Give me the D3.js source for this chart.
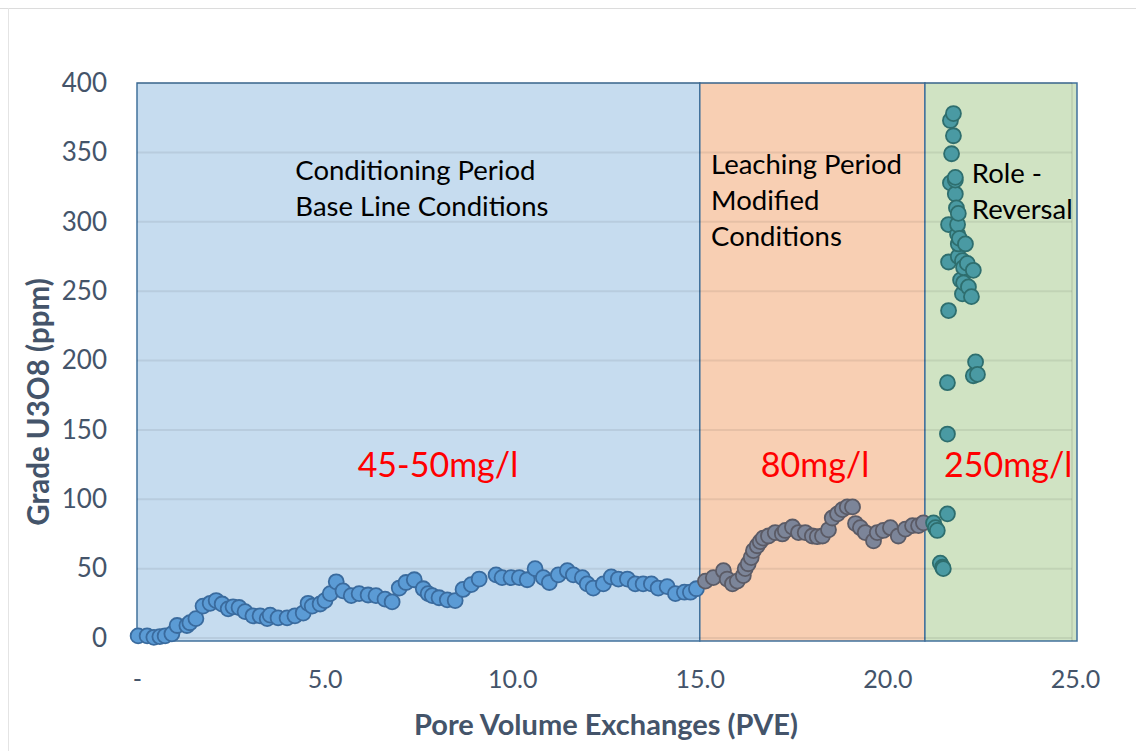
<!DOCTYPE html>
<html>
<head>
<meta charset="utf-8">
<script src="https://cdn.jsdelivr.net/npm/d3@7/dist/d3.min.js"></script>
<style>
  body { margin: 0; background: #fff; }
  text { font-family: Lato, "Open Sans", sans-serif; }
</style>
</head>
<body>
<div id="chart"></div>
<script>
// pore volume exchanges (x) and grade U3O8 ppm (y)
const conditioningPve = [0.03, 0.27, 0.45, 0.61, 0.75, 0.93, 1.07, 1.33, 1.41, 1.57, 1.76, 1.95, 2.11, 2.27, 2.43, 2.56, 2.72, 2.88, 3.09, 3.28, 3.47, 3.55, 3.76, 4.0, 4.21, 4.43, 4.56, 4.67, 4.88, 5.01, 5.15, 5.31, 5.49, 5.71, 5.92, 6.16, 6.37, 6.61, 6.8, 6.99, 7.17, 7.39, 7.63, 7.76, 7.87, 8.05, 8.27, 8.48, 8.69, 8.91, 9.12, 9.57, 9.73, 9.97, 10.19, 10.4, 10.61, 10.83, 10.99, 11.23, 11.47, 11.63, 11.87, 12.0, 12.16, 12.43, 12.64, 12.83, 13.07, 13.28, 13.49, 13.71, 13.89, 14.13, 14.35, 14.59, 14.75, 14.91];
const conditioningGrade = [1.5, 1.5, 0.5, 1, 1.5, 3, 9, 9, 11, 14, 23, 25, 27, 24.5, 21, 22.5, 22, 19, 16, 16, 14, 16.5, 14.5, 14.5, 16, 18, 25, 23, 24.5, 27, 32, 40.5, 34, 30.5, 32, 31, 30.5, 28, 26, 36, 40, 42, 35.5, 32, 30.5, 29, 27.5, 27, 35, 38.5, 42.5, 45.5, 43.5, 43.5, 43.5, 42, 50, 43.5, 40, 45.5, 48.5, 45.5, 43.5, 39, 36, 39, 44, 42.5, 42.5, 39, 39, 39, 36, 37, 32, 33, 33, 35.5];

const leachingPve = [15.15, 15.36, 15.63, 15.73, 15.87, 16.0, 16.16, 16.21, 16.29, 16.37, 16.43, 16.53, 16.61, 16.69, 16.83, 17.01, 17.2, 17.28, 17.47, 17.63, 17.81, 18.0, 18.13, 18.27, 18.43, 18.53, 18.67, 18.8, 18.93, 19.07, 19.15, 19.28, 19.41, 19.63, 19.73, 19.89, 20.08, 20.29, 20.48, 20.67, 20.83, 20.96];
const leachingGrade = [41, 43.5, 48.5, 42.5, 39, 41, 45, 50, 53.5, 58, 63, 66.5, 69.5, 72, 73.5, 76, 75, 77.5, 80, 76, 76, 73.5, 73, 73.5, 78, 86.5, 89.5, 92.5, 94.5, 94.5, 82.5, 79.5, 76, 70, 76, 77.5, 79.5, 73.5, 78.5, 81, 81, 83];

const reversalPve = [21.23, 21.28, 21.33, 21.41, 21.47, 21.49, 21.6, 21.6, 21.6, 21.63, 21.63, 21.63, 21.68, 21.68, 21.71, 21.76, 21.76, 21.81, 21.81, 21.81, 21.84, 21.87, 21.87, 21.89, 21.89, 21.89, 21.92, 21.95, 22.0, 22.0, 22.03, 22.03, 22.08, 22.13, 22.16, 22.24, 22.29, 22.29, 22.35, 22.4];
const reversalGrade = [83, 79.5, 77.5, 54, 51, 50, 89.5, 147, 184, 236, 271, 298, 328, 373, 349, 362, 378, 320, 330, 332, 310, 291, 298, 275, 284, 306, 288, 258, 248, 272, 256, 267, 284, 270, 253, 246, 189, 265, 199, 190];

const xTicks = [0, 5, 10, 15, 20, 25];
const yTicks = [0, 50, 100, 150, 200, 250, 300, 350, 400];

const periods = [
    { from: 0, to: 15, fill: "#c6dcef", lines: ["Conditioning Period", "Base Line Conditions"], dose: "45-50mg/l" },
    { from: 15, to: 21, fill: "#f8cfb3", lines: ["Leaching Period", "Modified", "Conditions"], dose: "80mg/l" },
    { from: 21, to: 25, fill: "#d0e3c3", lines: ["Role -", "Reversal"], dose: "250mg/l" }
];

const W = 1136, H = 751;
const margin = { top: 83, right: 61, bottom: 113, left: 137 };
const width = W - margin.left - margin.right;
const height = H - margin.top - margin.bottom;

const svg = d3.select("#chart").append("svg")
    .attr("width", W)
    .attr("height", H);

// faint worksheet frame
svg.append("line").attr("x1", 0).attr("x2", W).attr("y1", 8.5).attr("y2", 8.5)
    .attr("stroke", "#dcdcdc");
svg.append("line").attr("x1", 8.5).attr("x2", 8.5).attr("y1", 8).attr("y2", H)
    .attr("stroke", "#e4e4e4");

const g = svg.append("g")
    .attr("transform", `translate(${margin.left},${margin.top})`);

const x = d3.scaleLinear().domain([0, 25]).range([0, width]);
const y = d3.scaleLinear().domain([0, 400]).range([height, 0]);

// period boxes
g.selectAll(".period")
    .data(periods)
    .enter()
    .append("rect")
    .attr("x", d => x(d.from))
    .attr("y", y(400))
    .attr("width", d => x(d.to) - x(d.from) + (d.to === 25 ? 2 : 0))
    .attr("height", y(0) - y(400) + 3)
    .attr("fill", d => d.fill)
    .attr("stroke", "#41719c")
    .attr("stroke-width", 1.5);

// gridlines
g.append("g")
    .selectAll("line")
    .data(yTicks)
    .enter()
    .append("line")
    .attr("x1", 0)
    .attr("x2", x(25) - 3)
    .attr("y1", d => y(d))
    .attr("y2", d => y(d))
    .attr("stroke", "#000")
    .attr("stroke-opacity", 0.07)
    .attr("stroke-width", 2);

g.append("line")
    .attr("x1", x(25) - 3).attr("x2", x(25) - 3)
    .attr("y1", y(400)).attr("y2", y(0) + 3)
    .attr("stroke", "#000").attr("stroke-opacity", 0.1).attr("stroke-width", 1.5);

// axes
const yAxis = g.append("g")
    .call(d3.axisLeft(y).tickValues(yTicks).tickSize(0).tickPadding(30));
yAxis.select(".domain").remove();
yAxis.selectAll("text")
    .attr("fill", "#44546a")
    .style("font-size", "26px")
    .style("font-family", "Lato, sans-serif");

const xAxis = g.append("g")
    .attr("transform", `translate(0,${height})`)
    .call(d3.axisBottom(x).tickValues(xTicks).tickSize(0).tickPadding(32)
        .tickFormat(d => d === 0 ? "-" : d3.format(".1f")(d)));
xAxis.select(".domain").remove();
xAxis.selectAll("text")
    .attr("fill", "#44546a")
    .style("font-size", "25px")
    .style("font-family", "Lato, sans-serif");

// axis titles
svg.append("text")
    .attr("x", margin.left + x(12.5))
    .attr("y", 735)
    .attr("text-anchor", "middle")
    .attr("fill", "#44546a")
    .style("font-size", "29px")
    .style("font-weight", "bold")
    .text("Pore Volume Exchanges (PVE)");

svg.append("text")
    .attr("transform", `translate(49,402) rotate(-90)`)
    .attr("text-anchor", "middle")
    .attr("fill", "#44546a")
    .style("font-size", "29.5px")
    .style("font-weight", "bold")
    .text("Grade U3O8 (ppm)");

// period labels
const labelPos = [
    { dx: x(4.22), top: 180 },
    { dx: x(15.3), top: 174 },
    { dx: x(22.25), top: 183 }
];
periods.forEach((p, i) => {
    const t = g.append("text")
        .attr("x", labelPos[i].dx)
        .attr("y", labelPos[i].top - margin.top)
        .attr("fill", "#000")
        .style("font-size", "27.5px");
    p.lines.forEach((ln, j) => {
        t.append("tspan")
            .attr("x", labelPos[i].dx)
            .attr("dy", j === 0 ? 0 : 36)
            .text(ln);
    });
});

const doseX = [8.02, 18.07, 23.22];
g.selectAll(".dose")
    .data(periods)
    .enter()
    .append("text")
    .attr("x", (d, i) => x(doseX[i]))
    .attr("y", 477 - margin.top)
    .attr("text-anchor", "middle")
    .attr("fill", "#ff0000")
    .style("font-size", "34px")
    .text(d => d.dose);

// markers
const seriesList = [
    { xs: conditioningPve, ys: conditioningGrade, fill: "#5b9bd5", stroke: "#3a6b9e" },
    { xs: leachingPve, ys: leachingGrade, fill: "#7c8599", stroke: "#5b5b66" },
    { xs: reversalPve, ys: reversalGrade, fill: "#4a9aa3", stroke: "#2e6e6e" }
];

seriesList.forEach(s => {
    g.append("g")
        .selectAll("circle")
        .data(s.xs.map((v, i) => [v, s.ys[i]]))
        .enter()
        .append("circle")
        .attr("cx", d => x(d[0]))
        .attr("cy", d => y(d[1]))
        .attr("r", 7.5)
        .attr("fill", s.fill)
        .attr("stroke", s.stroke)
        .attr("stroke-width", 1.8);
});
</script>
</body>
</html>
